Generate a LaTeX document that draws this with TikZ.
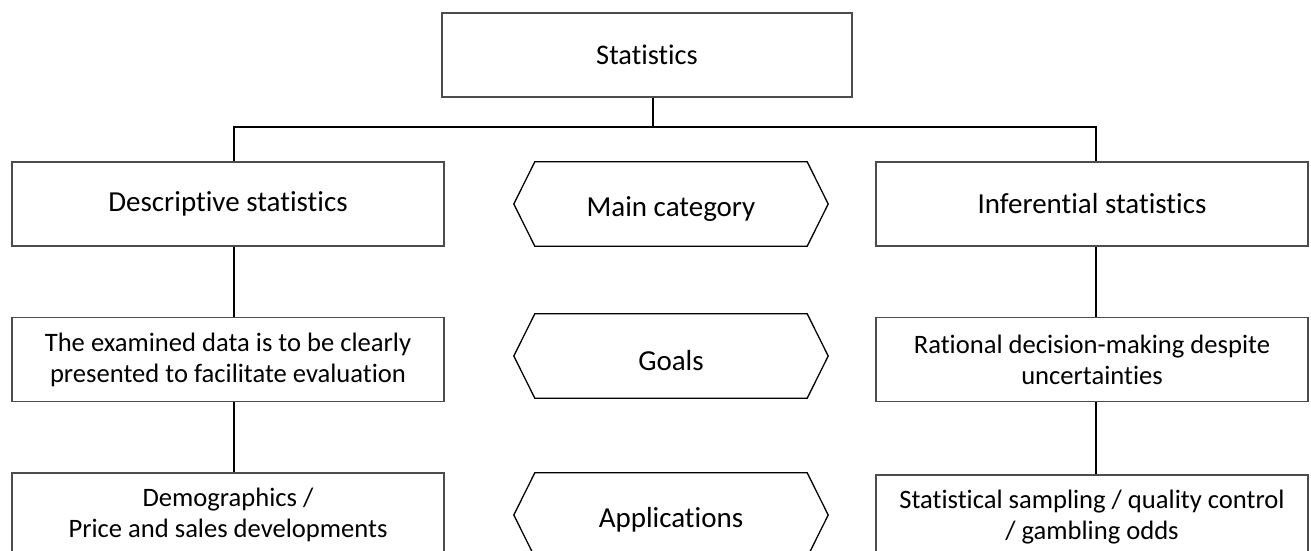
\documentclass[tikz,border=0pt]{standalone}
\usepackage{fontspec}
\setmainfont{Carlito}[Ligatures=NoCommon, RawFeature=-liga]
\begin{document}
\begin{tikzpicture}[x=1pt,y=-1pt,
  box/.style={draw=black!70, line width=1.3pt, minimum width=432pt, minimum height=84pt,
    inner sep=0pt, align=center, font=\fontsize{29}{32}\selectfont},
  textbox/.style={box, font=\fontsize{26.6}{31}\selectfont},
  topbox/.style={box, minimum width=410pt, font=\fontsize{28.4}{32}\selectfont},
  hexlabel/.style={minimum width=314pt, minimum height=84pt, inner sep=0pt,
    font=\fontsize{29}{32}\selectfont},
  hexline/.style={draw=black, line width=1.3pt, line join=miter},
  link/.style={draw=black, line width=1.3pt}]
\useasboundingbox (0,0) rectangle (1311,551);
\clip (0,0) rectangle (1311,551);

% top of the tree
\node[topbox] (stat) at (647,55) {Statistics};

% left column
\node[box] (desc) at (228,204) {Descriptive statistics};
\node[textbox] (dgoal) at (228,359.5) {The examined data is to be clearly\\presented to facilitate evaluation};
\node[textbox] (dapp) at (228,515) {Demographics /\\Price and sales developments};

% right column
\node[box] (inf) at (1092,204) {Inferential statistics};
\node[textbox] (igoal) at (1092,359.5) {Rational decision-making despite\\uncertainties};
\node[textbox] (iapp) at (1092,517) {Statistical sampling / quality control\\/ gambling odds};

% middle labels: hexagon outline drawn round each label node
\foreach \n/\y/\t in {cat/204/Main category, goal/356/Goals, appl/515/Applications}{
  \node[hexlabel] (\n) at (671,\y) {};
  \node[font=\fontsize{29}{32}\selectfont] (\n-text) at ([yshift=-5pt]\n.center) {\t};
  \draw[hexline] (\n.west) -- ([xshift=21pt]\n.north west) -- ([xshift=-21pt]\n.north east)
    -- (\n.east) -- ([xshift=-21pt]\n.south east) -- ([xshift=21pt]\n.south west) -- cycle;
}

% connectors
\coordinate (bus) at (653,127);
\draw[link] ([xshift=6pt]stat.south) -- (bus);
\draw[link] ([xshift=6pt]desc.north) |- (bus) -| ([xshift=4pt]inf.north);
\draw[link] ([xshift=6pt]desc.south) -- ([xshift=6pt]dgoal.north);
\draw[link] ([xshift=6pt]dgoal.south) -- ([xshift=6pt]dapp.north);
\draw[link] ([xshift=4pt]inf.south) -- ([xshift=4pt]igoal.north);
\draw[link] ([xshift=4pt]igoal.south) -- ([xshift=4pt]iapp.north);
\end{tikzpicture}
\end{document}
